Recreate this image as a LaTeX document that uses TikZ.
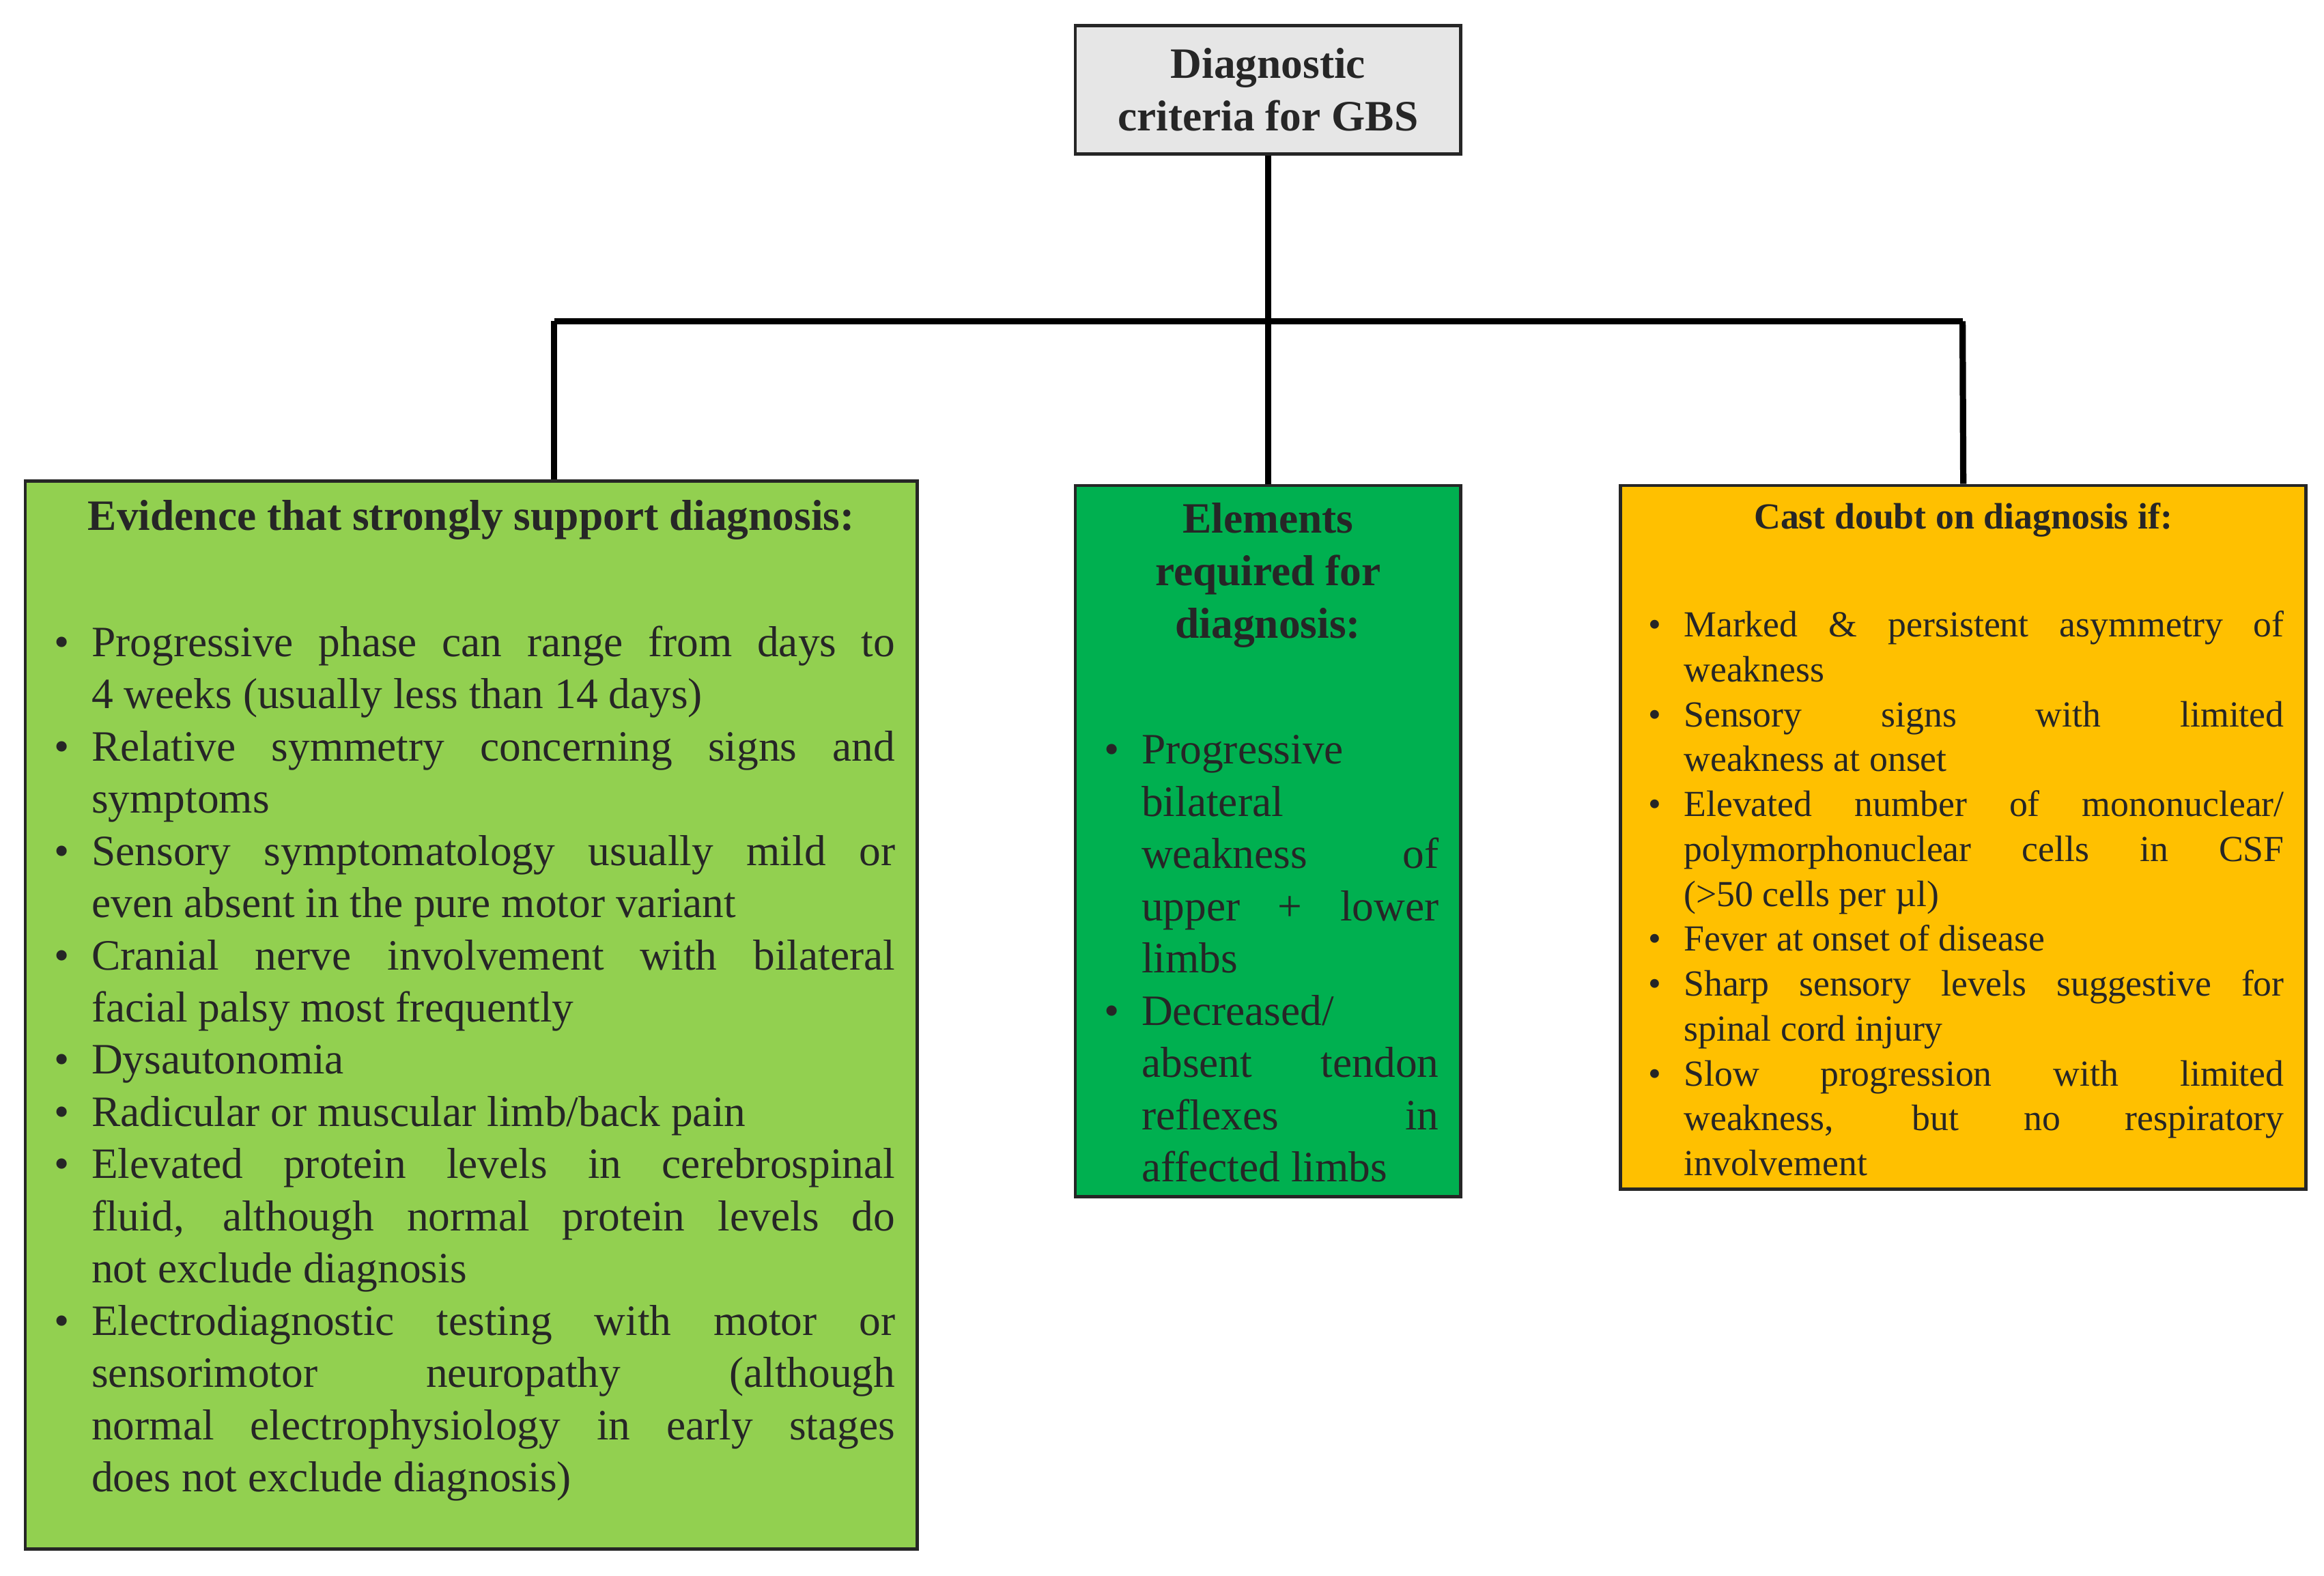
\documentclass[tikz,border=0pt]{standalone}
\usepackage{fontspec}
\setmainfont{Liberation Serif}
\usepackage{enumitem}
\definecolor{topg}{HTML}{E6E6E6}
\definecolor{lgreen}{HTML}{92D050}
\definecolor{dgreen}{HTML}{00B050}
\definecolor{orng}{HTML}{FFC000}
\definecolor{txt}{HTML}{262626}
\begin{document}
\begin{tikzpicture}[x=0.02cm,y=-0.02cm,
 box/.style={draw=black!85,line width=1.2pt,inner sep=0pt},
 conn/.style={line width=2.4pt,black},
 tx/.style={inner sep=0pt,anchor=north west,align=justify,text=txt}]
\useasboundingbox (0,0) rectangle (1556,1055);
\setlist[itemize]{leftmargin=0.48cm,labelsep=0.3cm,itemsep=0pt,parsep=0pt,topsep=0pt,partopsep=0pt,label=\textbullet}
% boxes
\node[box,fill=topg,minimum width=258*0.02cm,minimum height=86*0.02cm] (top) at (849,60) {};
\node[box,fill=lgreen,minimum width=597*0.02cm,minimum height=715*0.02cm] (left) at (315.5,679.5) {};
\node[box,fill=dgreen,minimum width=258*0.02cm,minimum height=476*0.02cm] (mid) at (849,563) {};
\node[box,fill=orng,minimum width=459*0.02cm,minimum height=471*0.02cm] (right) at (1314.5,560.5) {};
% connectors
\coordinate (j) at (849,215);
\coordinate (jl) at (371,215);
\coordinate (jr) at (1314,215);
\draw[conn] (top.south) -- (j);
\draw[conn] (jl) -- (jr);
\draw[conn] (jl) -- (jl |- left.north);
\draw[conn] (j) -- (mid.north);
\draw[conn] (jr) -- (right.north);
% texts
\node[inner sep=0pt,align=center,font=\bfseries\fontsize{16.5}{20}\selectfont,text=txt] (ttop) at (849,60) {Diagnostic\\criteria for GBS};
\node[inner sep=0pt,font=\bfseries\fontsize{16.5}{20}\selectfont,text=txt] (hl) at (315.5,348) {Evidence that strongly support diagnosis:};
\node[inner sep=0pt,align=center,font=\bfseries\fontsize{16.5}{20}\selectfont,text=txt] (hm) at (849,385) {Elements\\required for\\diagnosis:};
\node[inner sep=0pt,font=\bfseries\fontsize{14}{17}\selectfont,text=txt] (hr) at (1314.5,348) {Cast doubt on diagnosis if:};
\node[tx,text width=562*0.02cm,font=\fontsize{16.5}{19.9}\selectfont] (bl) at (37,404) {%
\begin{itemize}
\item Progressive phase can range from days to\linebreak 4 weeks (usually less than 14 days)
\item Relative symmetry concerning signs and\linebreak symptoms
\item Sensory symptomatology usually mild or\linebreak even absent in the pure motor variant
\item Cranial nerve involvement with bilateral\linebreak facial palsy most frequently
\item Dysautonomia
\item Radicular or muscular limb/back pain
\item Elevated protein levels in cerebrospinal\linebreak fluid, although normal protein levels do\linebreak not exclude diagnosis
\item Electrodiagnostic testing with motor or\linebreak sensorimotor neuropathy (although\linebreak normal electrophysiology in early stages\linebreak does not exclude diagnosis)
\end{itemize}};
\node[tx,text width=223*0.02cm,font=\fontsize{16.5}{19.9}\selectfont] (bm) at (740,476) {%
\begin{itemize}
\item Progressive\linebreak bilateral\linebreak weakness of\linebreak upper + lower\linebreak limbs
\item Decreased/\linebreak absent tendon\linebreak reflexes in\linebreak affected limbs
\end{itemize}};
\node[tx,text width=426*0.02cm,font=\fontsize{14}{17.1}\selectfont] (br) at (1103,396) {%
\begin{itemize}
\item Marked \& persistent asymmetry of\linebreak weakness
\item Sensory signs with limited\linebreak weakness at onset
\item Elevated number of mononuclear/\linebreak polymorphonuclear cells in CSF\linebreak (>50 cells per µl)
\item Fever at onset of disease
\item Sharp sensory levels suggestive for\linebreak spinal cord injury
\item Slow progression with limited\linebreak weakness, but no respiratory\linebreak involvement
\end{itemize}};
\end{tikzpicture}
\end{document}
